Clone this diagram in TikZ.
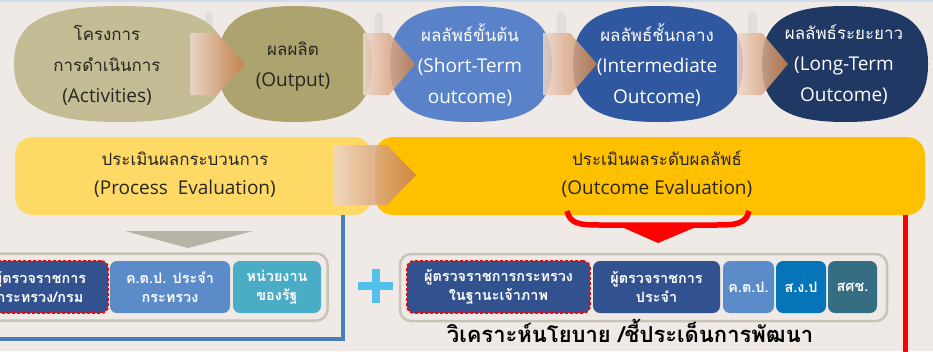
\documentclass[tikz,border=0pt]{standalone}
\usepackage{fontspec}
\setmainfont{Open Sans}
\newfontfamily\thaifnt[Script=Thai, Scale=0.89]{Loma}
\definecolor{bgc}{RGB}{240,234,230}
\definecolor{topline}{RGB}{208,220,236}
\definecolor{barc}{RGB}{224,221,219}
\definecolor{tanA}{RGB}{195,188,148}
\definecolor{olive}{RGB}{173,163,110}
\definecolor{blueS}{RGB}{89,130,200}
\definecolor{blueI}{RGB}{48,88,160}
\definecolor{blueL}{RGB}{31,56,100}
\definecolor{yelP}{RGB}{255,217,102}
\definecolor{yelO}{RGB}{255,192,0}
\definecolor{lineblue}{RGB}{74,126,187}
\definecolor{grayTri}{RGB}{181,180,166}
\definecolor{boxdark}{RGB}{50,82,143}
\definecolor{boxmid}{RGB}{91,139,201}
\definecolor{boxteal}{RGB}{75,172,198}
\definecolor{boxsgp}{RGB}{6,116,185}
\definecolor{boxsks}{RGB}{53,110,130}
\definecolor{plusc}{RGB}{82,192,232}
\definecolor{contour}{RGB}{200,196,184}
\definecolor{txtdark}{RGB}{40,38,32}
\definecolor{chevL}{RGB}{238,216,204}
\definecolor{chevM}{RGB}{226,178,150}
\definecolor{chevR}{RGB}{200,125,72}
\tikzset{
  toptext/.style={align=center, inner sep=0pt, font=\fontsize{19}{31}\selectfont},
  evalbox/.style={rectangle, rounded corners=18pt, inner sep=0pt, minimum height=78pt},
  evaltext/.style={align=center, inner sep=0pt, text=txtdark, font=\fontsize{19}{29}\selectfont},
  chevshade/.style={left color=chevL, middle color=chevM, right color=chevR, opacity=0.85},
  smallbox/.style={rectangle, rounded corners=7pt, inner sep=0pt, minimum height=52pt, text=white, align=center, font=\thaifnt\bfseries\fontsize{16.2}{19}\selectfont},
  redbox/.style={draw=red, line width=1.8pt, dash pattern=on 3pt off 2pt},
  framebox/.style={rectangle, draw=contour, line width=2.5pt, rounded corners=11pt, inner sep=0pt, minimum height=67pt},
  topbar/.style={fill=barc, rounded corners=4pt}
}
\newcommand\mychev[5]{\shade[chevshade] (#1,{#4-#5}) -- (#2,{#4-#5}) -- (#3,#4) -- (#2,{#4+#5}) -- (#1,{#4+#5}) -- cycle;}
% name, colour, cx, cy, half width, half height
\newcommand\squircle[6]{%
  \fill[#2] ({#3-#5},#4) .. controls ({#3-#5},{#4-0.72*#6}) and ({#3-0.72*#5},{#4-#6}) .. (#3,{#4-#6})
    .. controls ({#3+0.72*#5},{#4-#6}) and ({#3+#5},{#4-0.72*#6}) .. ({#3+#5},#4)
    .. controls ({#3+#5},{#4+0.72*#6}) and ({#3+0.72*#5},{#4+#6}) .. (#3,{#4+#6})
    .. controls ({#3-0.72*#5},{#4+#6}) and ({#3-#5},{#4+0.72*#6}) .. cycle;
  \node[inner sep=0pt, minimum width={2*#5}, minimum height={2*#6}] (#1) at (#3,#4) {};}
\begin{document}
\begin{tikzpicture}[x=1pt,y=-1pt]
\useasboundingbox (0,0) rectangle (933,351);
\clip (0,0) rectangle (933,351);
\fill[bgc] (0,0) rectangle (933,351);
\fill[topline] (0,0) rectangle (933,2);
% faint bars
\fill[topbar] (205,12) rectangle (213,36);
\fill[topbar] (375,12) rectangle (383,36);
\fill[topbar] (557,12) rectangle (566,36);
\fill[topbar] (748,12) rectangle (757,36);
% top shapes
\squircle{act}{tanA}{120}{64}{106}{58}
\squircle{out}{olive}{295}{64}{77}{58}
\squircle{st}{blueS}{471}{64}{81}{58}
\squircle{im}{blueI}{658}{64}{85}{58}
\squircle{lt}{blueL}{845}{64}{83}{58}
% chevrons
\mychev{190}{217}{245}{64}{31}
\mychev{363}{389}{415}{64}{31}
\mychev{543}{570}{597}{64}{31}
\mychev{737}{762}{788}{64}{31}
% top texts
\node[toptext, text=txtdark] (actT) at (107,65) {{\thaifnt โครงการ}\\{\thaifnt การดำเนินการ}\\(Activities)};
\node[toptext, text=txtdark] (outT) at (293,66) {{\thaifnt ผลผลิต}\\(Output)};
\node[toptext, text=white] (stT) at (470,65) {{\thaifnt ผลลัพธ์ขั้นต้น}\\(Short-Term\\outcome)};
\node[toptext, text=white] (imT) at (657,65) {{\thaifnt ผลลัพธ์ชั้นกลาง}\\(Intermediate\\Outcome)};
\node[toptext, text=white] (ltT) at (844,65) {{\thaifnt ผลลัพธ์ระยะยาว}\\(Long-Term\\Outcome)};
% line end points
\coordinate (bcorner) at (343,339);
\coordinate (bleft) at (-5,339);
\coordinate (rbot) at (905,360);
% evaluation boxes
\node[evalbox, fill=yelO, minimum width=550pt] (outc) at (650,176) {};
\node[evalbox, fill=yelP, minimum width=357pt] (proc) at (193.5,176) {};
\draw[lineblue, line width=4pt] (proc.south -| bcorner) -- (bcorner) -- (bleft);
\draw[red, line width=5pt] (outc.south -| rbot) -- (rbot);
\mychev{333}{387}{416}{175}{30}
\node[evaltext] (procT) at (185,174.5) {{\thaifnt ประเมินผลกระบวนการ}\\(Process\ \ Evaluation)};
\node[evaltext] (outcT) at (657,174.5) {{\thaifnt ประเมินผลระดับผลลัพธ์}\\(Outcome Evaluation)};
% gray down arrow head
\fill[grayTri] (125,231) -- (253,231) -- (188,248) -- cycle;
% red brace arrow
\draw[red, line width=5.5pt] (567,211) .. controls (570,224) and (580,225) .. (600,225) -- (716,225) .. controls (736,225) and (746,224) .. (749,211);
\fill[red] (615,224) -- (703,224) -- (658,243) -- cycle;
% bottom containers
\node[framebox, minimum width=345pt] (leftgrp) at (155,287) {};
\node[framebox, minimum width=487pt] (rightgrp) at (643.5,287.5) {};
% bottom boxes
\node[smallbox, fill=boxdark, redbox, minimum width=136pt] (pa) at (40,287) {ผู้ตรวจราชการ\\กระทรวง/กรม};
\node[smallbox, fill=boxmid, minimum width=120pt] (pb) at (170,287) {ค.ต.ป. ประจำ\\กระทรวง};
\node[smallbox, fill=boxteal, minimum width=88pt] (pc) at (277,287) {หน่วยงาน\\ของรัฐ};
\node[smallbox, fill=boxdark, redbox, minimum width=183pt] (pd) at (498.5,287) {ผู้ตรวจราชการกระทรวง\\ในฐานะเจ้าภาพ};
\node[smallbox, fill=boxdark, minimum width=127pt] (pe) at (656.5,287) {ผู้ตรวจราชการ\\ประจำ};
\node[smallbox, fill=boxmid, minimum width=51pt] (pf) at (748.5,287) {ค.ต.ป.};
\node[smallbox, fill=boxsgp, minimum width=50pt] (pg) at (801,287) {ส.ง.ป};
\node[smallbox, fill=boxsks, minimum width=49pt] (ph) at (852.5,287) {สศช.};
% plus sign
\draw[plusc, line width=8pt] (358,286) -- (393,286);
\draw[plusc, line width=8pt] (375.5,269) -- (375.5,303);
% bottom caption
\node[inner sep=0pt, anchor=base, font=\thaifnt\bfseries\fontsize{24.7}{26}\selectfont, text=black] (cap) at (630,342) {วิเคราะห์นโยบาย /ชี้ประเด็นการพัฒนา};
\end{tikzpicture}
\end{document}
